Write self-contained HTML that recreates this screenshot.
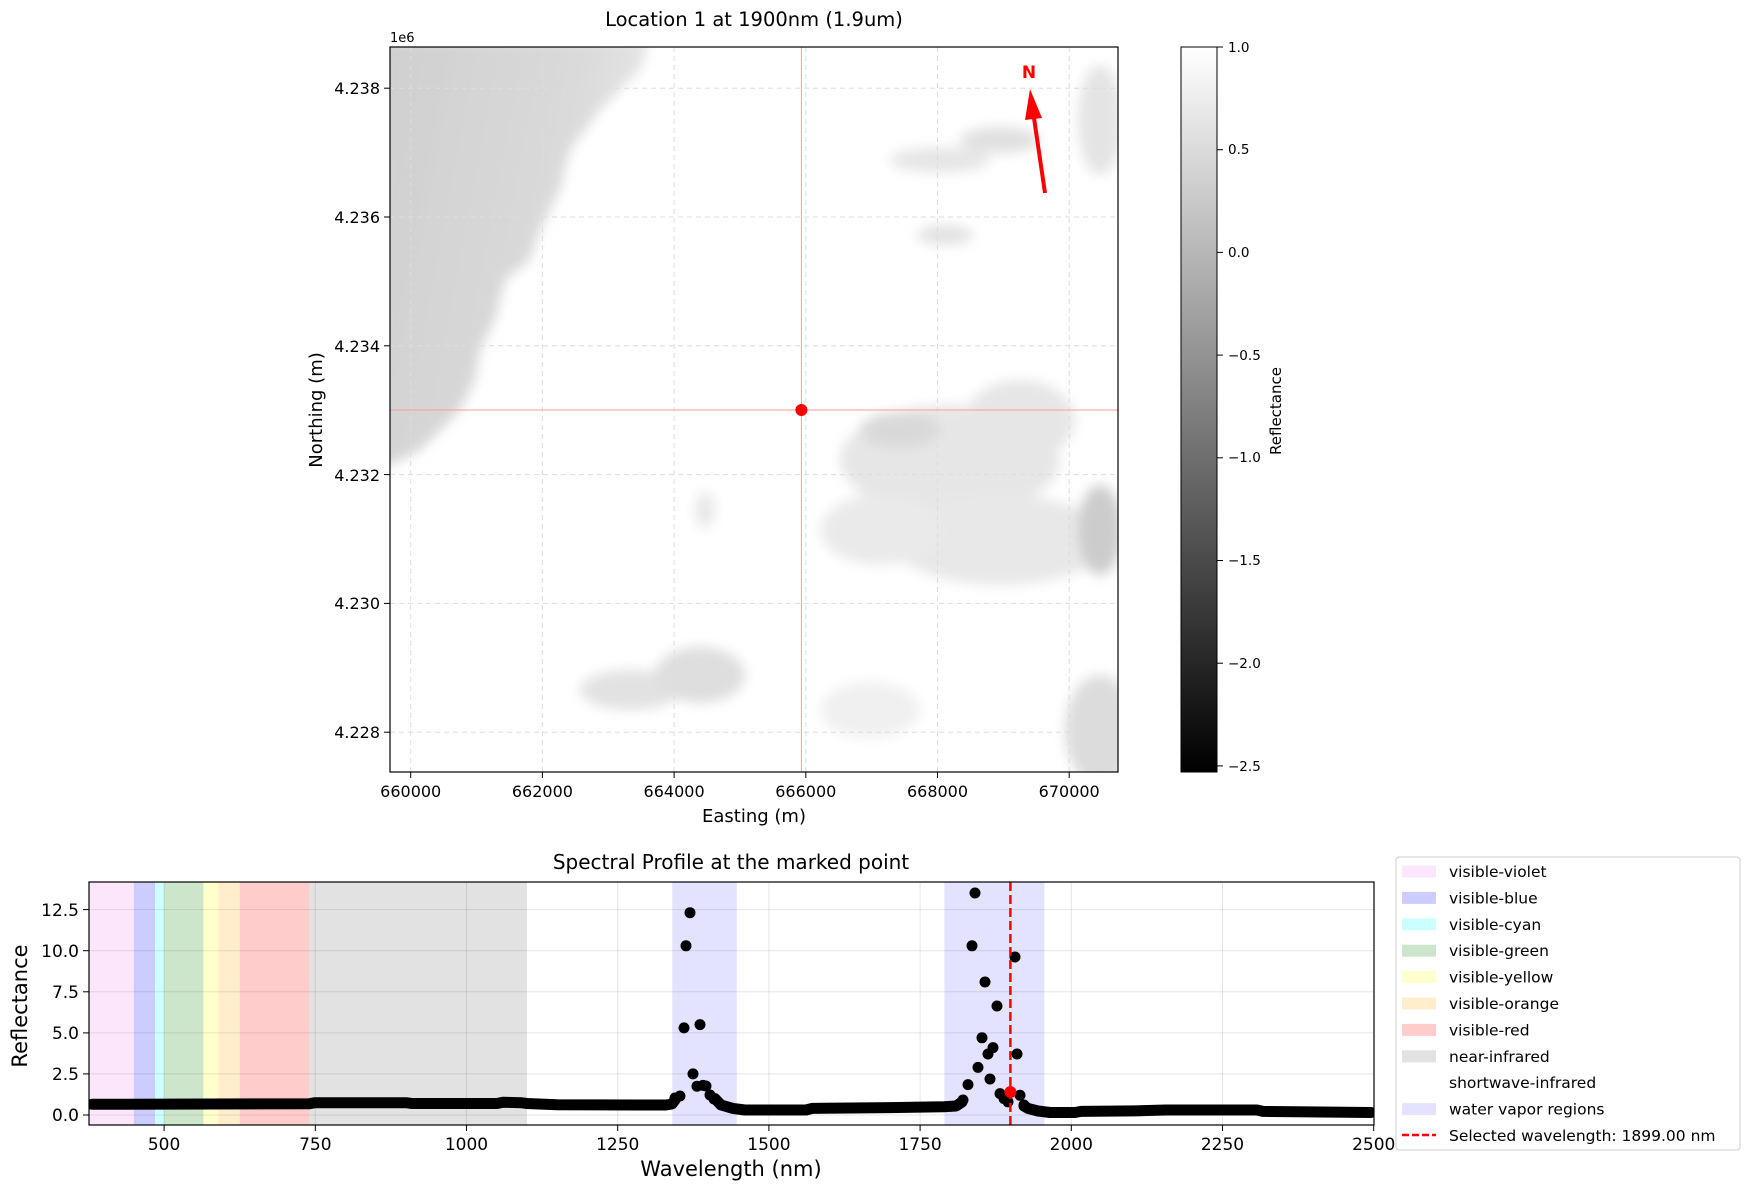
<!DOCTYPE html>
<html><head><meta charset="utf-8"><style>
html,body{margin:0;padding:0;background:#fff;}
svg{display:block;font-family:"DejaVu Sans","Liberation Sans",sans-serif;}
</style></head><body>
<svg width="1750" height="1189" viewBox="0 0 1750 1189" xmlns="http://www.w3.org/2000/svg">
<defs>
<filter id="bl" x="-20%" y="-20%" width="140%" height="140%"><feGaussianBlur stdDeviation="6"/></filter>
<linearGradient id="cb" x1="0" y1="0" x2="0" y2="1"><stop offset="0" stop-color="#fff"/><stop offset="1" stop-color="#000"/></linearGradient>
<linearGradient id="lg" x1="0" y1="0" x2="1" y2="0.3"><stop offset="0" stop-color="#cfcfcf"/><stop offset="0.7" stop-color="#dadada"/><stop offset="1" stop-color="#e8e8e8"/></linearGradient>
<clipPath id="mc"><rect x="390" y="47" width="728" height="725"/></clipPath>
<clipPath id="bc"><rect x="89" y="882" width="1285" height="243"/></clipPath>
</defs>

<text x="754" y="26" font-size="19.5" text-anchor="middle">Location 1 at 1900nm (1.9um)</text>
<text x="390" y="42" font-size="13">1e6</text>

<g clip-path="url(#mc)">
<rect x="390" y="47" width="728" height="725" fill="#fff"/>
<g filter="url(#bl)">
<path d="M380,40 L650,40 L640,70 L600,110 L570,150 L560,190 L540,230 L530,260 L505,280 L495,320 L480,350 L475,380 L460,410 L440,430 L420,450 L400,460 L380,470 Z" fill="url(#lg)"/>
<ellipse cx="630" cy="690" rx="50" ry="20" fill="#e2e2e2"/>
<ellipse cx="700" cy="675" rx="45" ry="28" fill="#dedede"/>
<ellipse cx="940" cy="160" rx="50" ry="13" fill="#e6e6e6"/>
<ellipse cx="1000" cy="140" rx="40" ry="13" fill="#e0e0e0"/>
<ellipse cx="945" cy="235" rx="28" ry="10" fill="#e2e2e2"/>
<ellipse cx="1100" cy="120" rx="22" ry="55" fill="#e4e4e4"/>
<ellipse cx="950" cy="460" rx="110" ry="55" fill="#e6e6e6"/>
<ellipse cx="900" cy="430" rx="40" ry="18" fill="#d9d9d9"/>
<ellipse cx="1020" cy="420" rx="55" ry="40" fill="#e6e6e6"/>
<ellipse cx="1000" cy="540" rx="110" ry="45" fill="#e8e8e8"/>
<ellipse cx="880" cy="530" rx="60" ry="35" fill="#eaeaea"/>
<ellipse cx="1100" cy="530" rx="22" ry="45" fill="#cccccc"/>
<ellipse cx="1100" cy="730" rx="35" ry="55" fill="#dcdcdc"/>
<ellipse cx="870" cy="710" rx="50" ry="28" fill="#f0f0f0"/>
<ellipse cx="705" cy="510" rx="10" ry="18" fill="#e8e8e8"/>
</g>
<g stroke="#dddddd" stroke-width="1" stroke-dasharray="5,4">
<line x1="410.7" y1="47" x2="410.7" y2="772"/><line x1="542.4" y1="47" x2="542.4" y2="772"/><line x1="674.1" y1="47" x2="674.1" y2="772"/><line x1="805.8" y1="47" x2="805.8" y2="772"/><line x1="937.5" y1="47" x2="937.5" y2="772"/><line x1="1069.2" y1="47" x2="1069.2" y2="772"/>
<line x1="390" y1="88.2" x2="1118" y2="88.2"/><line x1="390" y1="217" x2="1118" y2="217"/><line x1="390" y1="345.8" x2="1118" y2="345.8"/><line x1="390" y1="474.6" x2="1118" y2="474.6"/><line x1="390" y1="603.4" x2="1118" y2="603.4"/><line x1="390" y1="732.2" x2="1118" y2="732.2"/>
</g>
<line x1="801.4" y1="47" x2="801.4" y2="772" stroke="#ff9a9a" stroke-width="1"/>
<line x1="390" y1="410" x2="1118" y2="410" stroke="#ff9a9a" stroke-width="1"/>
<circle cx="801.4" cy="410" r="6" fill="#ff0000"/>
<line x1="1045" y1="193" x2="1034" y2="118" stroke="#ff0000" stroke-width="4"/>
<polygon points="1030,89 1042,118 1025,120" fill="#ff0000"/>
<text x="1029" y="78" font-size="17" font-weight="bold" fill="#ff0000" text-anchor="middle">N</text>
</g>
<rect x="390" y="47" width="728" height="725" fill="none" stroke="#000" stroke-width="1.2"/>
<g stroke="#000" stroke-width="1">
<line x1="410.7" y1="772" x2="410.7" y2="778"/><line x1="542.4" y1="772" x2="542.4" y2="778"/><line x1="674.1" y1="772" x2="674.1" y2="778"/><line x1="805.8" y1="772" x2="805.8" y2="778"/><line x1="937.5" y1="772" x2="937.5" y2="778"/><line x1="1069.2" y1="772" x2="1069.2" y2="778"/>
<line x1="384" y1="88.2" x2="390" y2="88.2"/><line x1="384" y1="217" x2="390" y2="217"/><line x1="384" y1="345.8" x2="390" y2="345.8"/><line x1="384" y1="474.6" x2="390" y2="474.6"/><line x1="384" y1="603.4" x2="390" y2="603.4"/><line x1="384" y1="732.2" x2="390" y2="732.2"/>
</g>
<g font-size="16" text-anchor="middle">
<text x="410.7" y="797">660000</text><text x="542.4" y="797">662000</text><text x="674.1" y="797">664000</text><text x="805.8" y="797">666000</text><text x="937.5" y="797">668000</text><text x="1069.2" y="797">670000</text>
</g>
<g font-size="16" text-anchor="end">
<text x="380" y="94">4.238</text><text x="380" y="223">4.236</text><text x="380" y="352">4.234</text><text x="380" y="481">4.232</text><text x="380" y="609">4.230</text><text x="380" y="738">4.228</text>
</g>
<text x="754" y="822" font-size="18" text-anchor="middle">Easting (m)</text>
<text x="0" y="0" font-size="18" text-anchor="middle" transform="translate(322,410) rotate(-90)">Northing (m)</text>

<rect x="1181" y="47" width="36" height="725" fill="url(#cb)" stroke="#000" stroke-width="1"/>
<g stroke="#000"><line x1="1217" y1="47" x2="1223" y2="47"/><line x1="1217" y1="149.7" x2="1223" y2="149.7"/><line x1="1217" y1="252.4" x2="1223" y2="252.4"/><line x1="1217" y1="355.1" x2="1223" y2="355.1"/><line x1="1217" y1="457.8" x2="1223" y2="457.8"/><line x1="1217" y1="560.5" x2="1223" y2="560.5"/><line x1="1217" y1="663.2" x2="1223" y2="663.2"/><line x1="1217" y1="765.9" x2="1223" y2="765.9"/></g>
<g font-size="13.5">
<text x="1228" y="52">1.0</text><text x="1228" y="154">0.5</text><text x="1228" y="257">0.0</text><text x="1228" y="360">−0.5</text><text x="1228" y="462">−1.0</text><text x="1228" y="565">−1.5</text><text x="1228" y="668">−2.0</text><text x="1228" y="771">−2.5</text>
</g>
<text x="0" y="0" font-size="15" text-anchor="middle" transform="translate(1281,411) rotate(-90)">Reflectance</text>

<text x="731" y="869" font-size="20" text-anchor="middle">Spectral Profile at the marked point</text>
<g clip-path="url(#bc)">
<rect x="89" y="882" width="1285" height="243" fill="#fff"/>
<rect x="89" y="882" width="44.8" height="243" fill="#ee82ee" fill-opacity="0.2"/>
<rect x="133.8" y="882" width="21.2" height="243" fill="#0000ff" fill-opacity="0.2"/>
<rect x="155" y="882" width="9.1" height="243" fill="#00ffff" fill-opacity="0.2"/>
<rect x="164.1" y="882" width="39.3" height="243" fill="#008000" fill-opacity="0.2"/>
<rect x="203.4" y="882" width="15.1" height="243" fill="#ffff00" fill-opacity="0.2"/>
<rect x="218.5" y="882" width="21.2" height="243" fill="#ffa500" fill-opacity="0.2"/>
<rect x="239.7" y="882" width="69.6" height="243" fill="#ff0000" fill-opacity="0.2"/>
<rect x="309.3" y="882" width="217.7" height="243" fill="#808080" fill-opacity="0.23"/>
<rect x="672.2" y="882" width="64.5" height="243" fill="#0000ff" fill-opacity="0.11"/>
<rect x="944.4" y="882" width="100" height="243" fill="#0000ff" fill-opacity="0.11"/>
<g stroke="#000" stroke-opacity="0.1" stroke-width="1">
<line x1="164.1" y1="882" x2="164.1" y2="1125"/><line x1="315.3" y1="882" x2="315.3" y2="1125"/><line x1="466.5" y1="882" x2="466.5" y2="1125"/><line x1="617.7" y1="882" x2="617.7" y2="1125"/><line x1="768.9" y1="882" x2="768.9" y2="1125"/><line x1="920.1" y1="882" x2="920.1" y2="1125"/><line x1="1071.3" y1="882" x2="1071.3" y2="1125"/><line x1="1222.5" y1="882" x2="1222.5" y2="1125"/>
<line x1="89" y1="1115" x2="1374" y2="1115"/><line x1="89" y1="1073.9" x2="1374" y2="1073.9"/><line x1="89" y1="1032.9" x2="1374" y2="1032.9"/><line x1="89" y1="991.8" x2="1374" y2="991.8"/><line x1="89" y1="950.7" x2="1374" y2="950.7"/><line x1="89" y1="909.6" x2="1374" y2="909.6"/>
</g>
<polyline fill="none" stroke="#000" stroke-width="11" stroke-linejoin="round" stroke-linecap="round" points="92,1104.3 309,1103.8 315,1102.7 406,1102.7 412,1103.5 497,1103.5 503,1102.2 521,1102.7 527,1103.5 557,1104.8 666,1105 672,1104 675,1100 "/>
<polyline fill="none" stroke="#000" stroke-width="11" stroke-linejoin="round" stroke-linecap="round" points="715,1098.6 721,1105 733,1108.4 745,1110 806,1110 812,1108.4 890,1107.6 944,1106.8 956,1106 962,1102 "/>
<polyline fill="none" stroke="#000" stroke-width="11" stroke-linejoin="round" stroke-linecap="round" points="1024,1106 1028,1108.4 1038,1111 1050,1112.5 1075,1112.5 1081,1111.4 1135,1110.9 1166,1110 1257,1110 1263,1111.4 1371,1112.5"/>
<g fill="#000">
<circle cx="675" cy="1098" r="5.5"/><circle cx="680" cy="1096" r="5.5"/><circle cx="684" cy="1027.9" r="5.5"/><circle cx="686" cy="945.8" r="5.5"/><circle cx="690" cy="912.7" r="5.5"/><circle cx="693" cy="1073.9" r="5.5"/><circle cx="697" cy="1086.2" r="5.5"/><circle cx="700" cy="1024.6" r="5.5"/><circle cx="703" cy="1085.4" r="5.5"/><circle cx="706" cy="1086" r="5.5"/><circle cx="710" cy="1095" r="5.5"/><circle cx="714" cy="1099" r="5.5"/>
<circle cx="963" cy="1100" r="5.5"/><circle cx="968" cy="1084.6" r="5.5"/><circle cx="972" cy="945.8" r="5.5"/><circle cx="975" cy="893" r="5.5"/><circle cx="978" cy="1067.4" r="5.5"/><circle cx="982" cy="1037.8" r="5.5"/><circle cx="985" cy="982" r="5.5"/><circle cx="988" cy="1054" r="5.5"/><circle cx="990" cy="1079" r="5.5"/><circle cx="993" cy="1047.6" r="5.5"/><circle cx="997" cy="1006" r="5.5"/><circle cx="1000" cy="1093.6" r="5.5"/><circle cx="1004" cy="1098.6" r="5.5"/><circle cx="1008" cy="1101.8" r="5.5"/><circle cx="1015" cy="957" r="5.5"/><circle cx="1017" cy="1054" r="5.5"/><circle cx="1020" cy="1095.3" r="5.5"/><circle cx="1024" cy="1105" r="5.5"/>
</g>
<line x1="1010.4" y1="882" x2="1010.4" y2="1125" stroke="#ff0000" stroke-width="2.5" stroke-dasharray="9,4"/>
<circle cx="1010.4" cy="1092" r="6" fill="#ff0000"/>
</g>
<rect x="89" y="882" width="1285" height="243" fill="none" stroke="#000" stroke-width="1.2"/>
<g stroke="#000"><line x1="164.1" y1="1125" x2="164.1" y2="1131"/><line x1="315.3" y1="1125" x2="315.3" y2="1131"/><line x1="466.5" y1="1125" x2="466.5" y2="1131"/><line x1="617.7" y1="1125" x2="617.7" y2="1131"/><line x1="768.9" y1="1125" x2="768.9" y2="1131"/><line x1="920.1" y1="1125" x2="920.1" y2="1131"/><line x1="1071.3" y1="1125" x2="1071.3" y2="1131"/><line x1="1222.5" y1="1125" x2="1222.5" y2="1131"/><line x1="1373.7" y1="1125" x2="1373.7" y2="1131"/>
<line x1="83" y1="1115" x2="89" y2="1115"/><line x1="83" y1="1073.9" x2="89" y2="1073.9"/><line x1="83" y1="1032.9" x2="89" y2="1032.9"/><line x1="83" y1="991.8" x2="89" y2="991.8"/><line x1="83" y1="950.7" x2="89" y2="950.7"/><line x1="83" y1="909.6" x2="89" y2="909.6"/></g>
<g font-size="17" text-anchor="middle">
<text x="164.1" y="1150">500</text><text x="315.3" y="1150">750</text><text x="466.5" y="1150">1000</text><text x="617.7" y="1150">1250</text><text x="768.9" y="1150">1500</text><text x="920.1" y="1150">1750</text><text x="1071.3" y="1150">2000</text><text x="1222.5" y="1150">2250</text><text x="1373.7" y="1150">2500</text>
</g>
<g font-size="17" text-anchor="end">
<text x="79" y="1121">0.0</text><text x="79" y="1080">2.5</text><text x="79" y="1039">5.0</text><text x="79" y="998">7.5</text><text x="79" y="957">10.0</text><text x="79" y="916">12.5</text>
</g>
<text x="731" y="1176" font-size="21" text-anchor="middle">Wavelength (nm)</text>
<text x="0" y="0" font-size="21" text-anchor="middle" transform="translate(27,1006) rotate(-90)">Reflectance</text>

<rect x="1396" y="857" width="344" height="293" rx="3" fill="#fff" stroke="#cccccc" stroke-width="1"/>
<g font-size="15.5">
<rect x="1402" y="865.5" width="34" height="12" fill="#ee82ee" fill-opacity="0.2"/><text x="1449" y="877">visible-violet</text>
<rect x="1402" y="891.9" width="34" height="12" fill="#0000ff" fill-opacity="0.2"/><text x="1449" y="903.4">visible-blue</text>
<rect x="1402" y="918.3" width="34" height="12" fill="#00ffff" fill-opacity="0.2"/><text x="1449" y="929.8">visible-cyan</text>
<rect x="1402" y="944.7" width="34" height="12" fill="#008000" fill-opacity="0.2"/><text x="1449" y="956.2">visible-green</text>
<rect x="1402" y="971.1" width="34" height="12" fill="#ffff00" fill-opacity="0.2"/><text x="1449" y="982.6">visible-yellow</text>
<rect x="1402" y="997.5" width="34" height="12" fill="#ffa500" fill-opacity="0.2"/><text x="1449" y="1009">visible-orange</text>
<rect x="1402" y="1023.9" width="34" height="12" fill="#ff0000" fill-opacity="0.2"/><text x="1449" y="1035.4">visible-red</text>
<rect x="1402" y="1050.3" width="34" height="12" fill="#808080" fill-opacity="0.23"/><text x="1449" y="1061.8">near-infrared</text>
<text x="1449" y="1088.2">shortwave-infrared</text>
<rect x="1402" y="1103.1" width="34" height="12" fill="#0000ff" fill-opacity="0.11"/><text x="1449" y="1114.6">water vapor regions</text>
<line x1="1402" y1="1135" x2="1436" y2="1135" stroke="#ff0000" stroke-width="2.5" stroke-dasharray="7,3"/><text x="1449" y="1141">Selected wavelength: 1899.00 nm</text>
</g>
</svg>
</body></html>
